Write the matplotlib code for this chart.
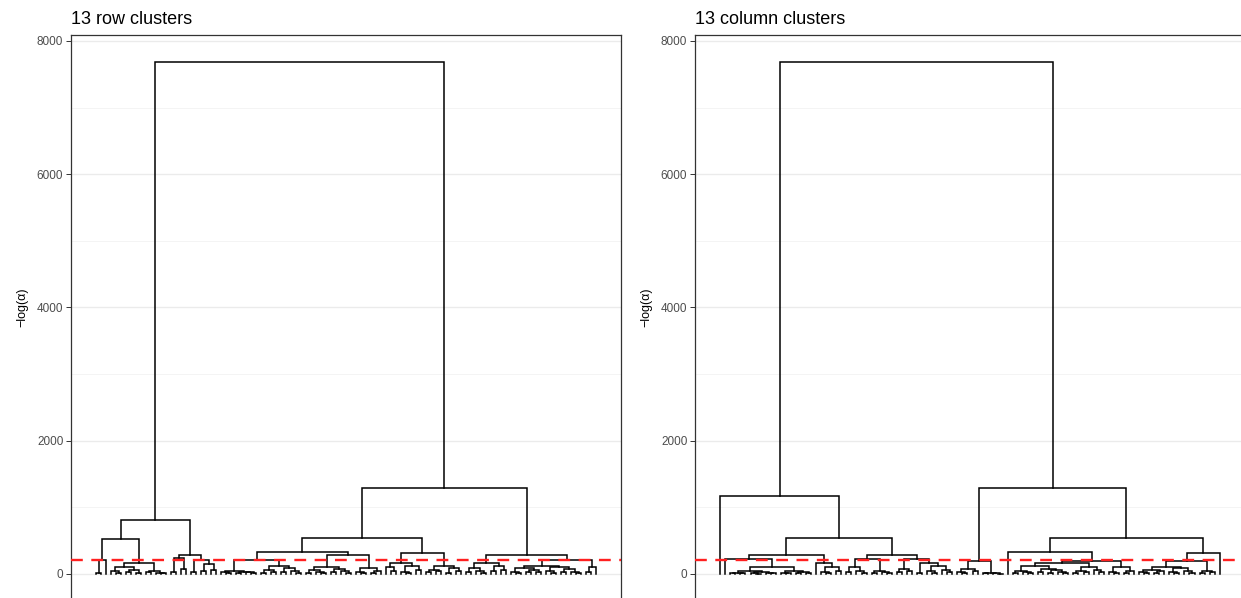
import matplotlib.pyplot as plt

plt.rcParams['font.family'] = ['Liberation Sans', 'DejaVu Sans']

# merge trees: [height, left, right], 0 = leaf
# row dendrogram
row_a1a = [205, [15, 0, 0], 0]
row_a1b = [155,
           [105, [35, 0, [10, 0, 0]], [55, [20, 0, 0], [15, 0, 0]]],
           [45, [20, 0, 0], [15, 0, [5, 0, 0]]]]
row_a2 = [280,
          [235, [20, 0, 0], [70, 0, 0]],
          [200, [30, 0, 0], [150, [40, 0, 0], [60, 0, 0]]]]
row_b1a_left = [205,
                [45, [20, 0, [5, 0, 0]], [30, [10, 0, 0], [25, 0, [5, 0, 0]]]],
                [110, [60, [15, 0, 0], [25, 0, 0]], [90, [30, 0, 0], [40, 0, [10, 0, 0]]]]]
row_b1a_right = [280,
                 [95, [50, [15, 0, 0], [20, 0, [5, 0, 0]]], [70, [25, 0, 0], [35, 0, [10, 0, 0]]]],
                 [80, [30, 0, [10, 0, 0]], [45, [15, 0, 0], 0]]]
row_b1b = [313,
           [155, [100, 0, [40, 0, 0]], [120, [30, 0, [10, 0, 0]], [50, 0, 0]]],
           [115, [60, [20, 0, 0], [35, 0, 0]], [85, [10, 0, 0], [45, 0, 0]]]]
row_b2 = [280,
          [155, [80, [20, 0, 0], [40, 0, [10, 0, 0]]], [110, [35, 0, 0], [60, 0, 0]]],
          [200,
           [120, [90, [30, 0, [10, 0, 0]], [55, [20, 0, 0], [25, 0, 0]]],
            [100, [40, 0, [15, 0, 0]], [65, [20, 0, 0], [30, 0, [5, 0, 0]]]]],
           [100, [25, 0, 0], 0]]]
row_tree = [7684,
            [812, [526, row_a1a, row_a1b], row_a2],
            [1289, [530, [320, row_b1a_left, row_b1a_right], row_b1b], row_b2]]

# column dendrogram
col_c2a = [275,
           [225, 0, [100,
                     [40, [15, [5, 0, 0], [8, 0, 0]], [25, [10, 0, [3, 0, 0]], [12, 0, [4, 0, 0]]]],
                     [35, [10, 0, [4, 0, 0]], [20, [6, 0, 0], [8, 0, 0]]]]],
           [155, 0, [100, [20, 0, [5, 0, 0]], [40, 0, 0]]]]
col_c2b = [275,
           [225, [100, [30, 0, 0], [45, 0, [10, 0, 0]]], [40, [15, 0, 0], [25, 0, [5, 0, 0]]]],
           [225, [70, [20, 0, 0], [35, 0, 0]],
            [155, [10, 0, 0], [115, [40, 0, [10, 0, 0]], [60, 0, [25, 0, 0]]]]]]
col_d1 = [195, [70, [25, 0, [5, 0, 0]], [40, 0, 0]], [10, [5, 0, 0], [8, 0, [3, 0, 0]]]]
col_d2a = [330, 0,
           [195,
            [160,
             [110, [40, [15, 0, 0], [20, 0, [5, 0, 0]]],
              [75, [30, 0, 0], [50, [10, 0, 0], [25, 0, [8, 0, 0]]]]],
             [100, [45, [15, 0, 0], [25, 0, 0]], [60, 0, [30, 0, 0]]]],
            [100, [30, 0, [10, 0, 0]], [45, [15, 0, 0], 0]]]]
col_d2b = [313,
           [195,
            [105, [60, [20, 0, [5, 0, 0]], [35, [10, 0, 0], 0]],
             [80, [25, 0, [5, 0, 0]], [45, 0, [15, 0, 0]]]],
            [40, [10, 0, 0], [20, 0, 0]]],
           0]
col_tree = [7684,
            [1160, 0, [533, col_c2a, col_c2b]],
            [1288, col_d1, [533, col_d2a, col_d2b]]]

cut_height = 200
titles = ['13 row clusters', '13 column clusters']
yticks = [0, 2000, 4000, 6000, 8000]
yminor = [1000, 3000, 5000, 7000]

W, H = 1241, 598


def count_leaves(node):
    if not isinstance(node, list):
        return 1
    return count_leaves(node[1]) + count_leaves(node[2])


def draw_tree(ax, node, counter):
    if not isinstance(node, list):
        x = counter[0]
        counter[0] += 1
        return x, 0
    h, left, right = node
    xl, hl = draw_tree(ax, left, counter)
    xr, hr = draw_tree(ax, right, counter)
    ax.plot([xl, xl, xr, xr], [hl, h, h, hr], color='black', lw=1.1,
            solid_joinstyle='miter', zorder=3)
    return (xl + xr) / 2, h


def panel(left_px, tree, title):
    ax = fig.add_axes([left_px / W, -15 / H, 550 / W, 578 / H])
    n = count_leaves(tree)
    draw_tree(ax, tree, [0])
    ax.axhline(cut_height, color='#FF2020', lw=1.7, dashes=(5.0, 3.6), zorder=4)
    ax.set_xlim(-5, n - 1 + 5)
    ax.set_ylim(-590, 8090)
    ax.set_xticks([])
    ax.set_yticks(yticks)
    ax.set_yticks(yminor, minor=True)
    ax.set_yticklabels([str(t) for t in yticks])
    ax.tick_params(axis='y', which='major', length=3.5, width=0.7, color='#333333',
                   labelcolor='#4D4D4D', labelsize=8.5, pad=2)
    ax.tick_params(axis='y', which='minor', length=0)
    ax.grid(axis='y', which='major', color='#EBEBEB', lw=1.0)
    ax.grid(axis='y', which='minor', color='#F2F2F2', lw=0.6)
    ax.set_axisbelow(True)
    for s in ax.spines.values():
        s.set_color('#333333')
        s.set_linewidth(0.9)
    ax.set_title(title, loc='left', fontsize=13, pad=8)
    ax.text(-0.088, 4000, '\u2212log(\u03b1)', transform=ax.get_yaxis_transform(),
            rotation=90, ha='center', va='center', fontsize=9)
    return ax


fig = plt.figure(figsize=(W / 100, H / 100), dpi=100)
panel(71, row_tree, titles[0])
panel(695, col_tree, titles[1])
fig.savefig('out.png', dpi=100)
